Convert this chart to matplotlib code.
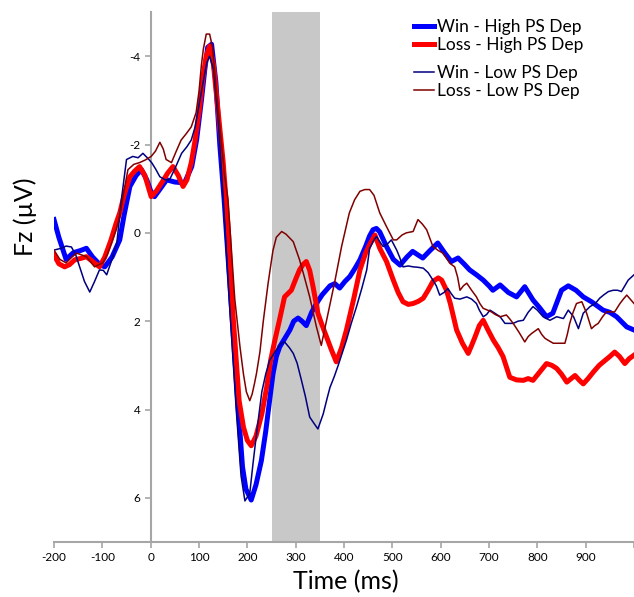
import matplotlib
matplotlib.use("Agg")
import matplotlib.pyplot as plt

plt.rcParams['font.family'] = ['Lato', 'DejaVu Sans']
plt.rcParams['axes.unicode_minus'] = False

# values (time in ms, amplitude in uV)
t_win_high = [-200, -190, -175, -160, -145, -133, -120, -105, -95, -80, -64, -55, -43, -30, -19, -8, 0, 8, 20, 33,
              50, 70, 85, 95, 105, 112, 118, 126, 135, 143, 152, 166, 180, 190, 197, 208, 218, 229, 238, 246,
              253, 260, 267, 277, 288, 296, 305, 313, 322, 333, 343, 355, 371, 381, 391, 402, 412, 423, 433, 445,
              453, 460, 467, 474, 488, 502, 516, 530, 542, 553, 563, 578, 594, 608, 622, 636, 648, 660, 674, 688,
              700, 708, 723, 740, 757, 774, 791, 805, 819, 832, 850, 864, 880, 895, 912, 936, 950, 964, 985, 1000]
v_win_high = [-0.3, 0.1, 0.6, 0.45, 0.4, 0.35, 0.55, 0.72, 0.77, 0.55, 0.16, -0.4, -1.05, -1.3, -1.43, -1.2, -0.95, -0.82, -1.0, -1.2,
              -1.15, -1.13, -1.5, -2.1, -3.0, -3.7, -4.2, -4.27, -3.4, -2.0, -0.75, 1.5, 3.8, 5.3, 5.8, 6.05, 5.7, 5.16, 4.5, 3.8,
              3.2, 2.8, 2.58, 2.4, 2.2, 2.0, 1.93, 2.0, 2.1, 1.8, 1.6, 1.4, 1.2, 1.15, 1.25, 1.1, 0.99, 0.8, 0.61, 0.3,
              0.07, -0.07, -0.1, -0.02, 0.31, 0.6, 0.73, 0.55, 0.42, 0.5, 0.57, 0.4, 0.23, 0.45, 0.65, 0.57, 0.7, 0.84, 0.95, 1.07,
              1.2, 1.3, 1.18, 1.35, 1.45, 1.22, 1.52, 1.7, 1.9, 1.82, 1.3, 1.2, 1.3, 1.45, 1.56, 1.75, 1.8, 1.9, 2.13, 2.2]

t_loss_high = [-200, -190, -178, -168, -157, -145, -133, -120, -106, -95, -82, -72, -64, -55, -43, -33, -23, -12, 1, 12,
               25, 35, 46, 57, 67, 75, 84, 92, 101, 108, 115, 122, 130, 140, 150, 161, 170, 183, 192, 200,
               208, 218, 230, 240, 248, 257, 266, 277, 291, 300, 308, 315, 322, 329, 336, 346, 355, 364, 374, 384,
               395, 405, 420, 433, 445, 453, 464, 474, 488, 502, 512, 522, 533, 543, 554, 564, 574, 584, 595, 602,
               612, 620, 633, 645, 657, 664, 671, 680, 688, 698, 709, 719, 729, 743, 757, 771, 781, 791, 805, 819,
               830, 840, 850, 861, 870, 878, 888, 895, 905, 916, 928, 940, 950, 960, 970, 981, 990, 1000]
v_loss_high = [0.5, 0.7, 0.77, 0.72, 0.61, 0.58, 0.54, 0.65, 0.77, 0.55, 0.16, -0.2, -0.45, -0.85, -1.27, -1.4, -1.5, -1.3, -0.82, -0.95,
               -1.17, -1.35, -1.5, -1.3, -1.05, -1.2, -1.59, -2.1, -2.8, -3.5, -4.0, -4.23, -3.8, -2.7, -1.6, 0.0, 1.8, 3.8, 4.4, 4.7,
               4.82, 4.6, 4.1, 3.5, 2.9, 2.43, 2.0, 1.45, 1.3, 1.05, 0.84, 0.72, 0.65, 0.85, 1.22, 1.82, 2.1, 2.36, 2.65, 2.92,
               2.6, 2.2, 1.5, 0.84, 0.45, 0.27, 0.05, 0.35, 0.65, 1.07, 1.35, 1.56, 1.62, 1.6, 1.55, 1.48, 1.3, 1.1, 1.02, 1.07,
               1.3, 1.6, 2.2, 2.5, 2.73, 2.55, 2.36, 2.1, 1.98, 2.2, 2.43, 2.6, 2.8, 3.27, 3.33, 3.34, 3.3, 3.34, 3.15, 2.96,
               3.0, 3.07, 3.2, 3.38, 3.3, 3.23, 3.35, 3.42, 3.3, 3.15, 3.0, 2.89, 2.8, 2.7, 2.8, 2.96, 2.85, 2.77]

t_win_low = [-200, -185, -175, -164, -155, -147, -137, -126, -116, -106, -98, -91, -80, -70, -60, -50, -37, -26, -16, -7,
             2, 10, 19, 30, 39, 50, 64, 75, 84, 92, 101, 110, 116, 122, 130, 140, 150, 163, 177, 187,
             195, 205, 212, 219, 230, 238, 246, 260, 270, 277, 287, 295, 303, 312, 320, 329, 337, 346, 357, 365,
             371, 380, 388, 397, 405, 415, 426, 437, 447, 453, 460, 467, 474, 481, 490, 498, 509, 515, 522, 533,
             543, 553, 564, 574, 584, 591, 598, 607, 615, 622, 629, 640, 654, 664, 674, 680, 688, 695, 702, 712,
             723, 733, 742, 750, 760, 771, 781, 791, 800, 812, 826, 840, 854, 864, 875, 885, 895, 909, 920, 929,
             938, 947, 957, 966, 974, 981, 988, 995, 1000]
v_win_low = [0.39, 0.35, 0.3, 0.32, 0.5, 0.77, 1.1, 1.34, 1.1, 0.84, 0.85, 0.95, 0.6, 0.23, -0.8, -1.66, -1.73, -1.7, -1.8, -1.7,
             -1.59, -1.45, -1.27, -1.2, -1.2, -1.45, -1.8, -1.95, -2.1, -2.4, -2.95, -3.5, -3.85, -4.0, -3.7, -2.5, -0.8, 1.6, 4.0, 5.5,
             6.07, 5.9, 5.2, 4.55, 3.6, 3.2, 2.89, 2.65, 2.5, 2.47, 2.6, 2.73, 2.95, 3.34, 3.7, 4.17, 4.3, 4.44, 4.1, 3.75,
             3.5, 3.25, 3.0, 2.7, 2.43, 2.05, 1.67, 1.25, 0.84, 0.35, 0.2, 0.08, 0.2, 0.31, 0.25, 0.16, 0.39, 0.55, 0.77, 0.75,
             0.77, 0.78, 0.8, 0.9, 1.07, 1.2, 1.41, 1.35, 1.26, 1.38, 1.48, 1.5, 1.45, 1.5, 1.6, 1.75, 1.9, 1.85, 1.75, 1.82,
             1.9, 2.05, 2.05, 2.05, 2.0, 1.98, 1.8, 1.67, 1.75, 1.9, 1.98, 1.9, 1.94, 1.75, 1.9, 2.17, 1.82, 1.67, 1.6, 1.48,
             1.4, 1.33, 1.3, 1.3, 1.33, 1.2, 1.07, 1.0, 0.95]

t_loss_low = [-200, -188, -175, -163, -153, -143, -133, -125, -116, -107, -99, -90, -81, -72, -64, -56, -47, -35, -23, -11,
              1, 10, 19, 26, 32, 43, 53, 63, 74, 84, 94, 100, 105, 109, 115, 122, 128, 135, 145, 153,
              160, 174, 185, 192, 198, 205, 210, 215, 219, 226, 233, 243, 253, 260, 271, 280, 295, 308, 318, 329,
              343, 353, 367, 381, 395, 411, 422, 433, 443, 453, 462, 474, 488, 502, 509, 520, 529, 543, 553, 562,
              571, 584, 595, 605, 619, 629, 635, 640, 647, 654, 664, 674, 681, 688, 697, 705, 713, 723, 736, 743,
              750, 762, 774, 781, 788, 802, 809, 816, 825, 833, 845, 857, 862, 867, 874, 881, 892, 902, 912, 919,
              926, 935, 943, 952, 960, 971, 978, 985, 992, 1000]
v_loss_low = [0.39, 0.6, 0.68, 0.55, 0.46, 0.5, 0.54, 0.65, 0.77, 0.72, 0.68, 0.5, 0.23, -0.05, -0.37, -0.9, -1.43, -1.55, -1.59, -1.65,
              -1.73, -1.85, -2.05, -1.9, -1.66, -1.59, -1.85, -2.1, -2.25, -2.4, -2.72, -3.2, -3.8, -4.16, -4.5, -4.5, -4.2, -3.3, -2.2, -1.3,
              -0.75, 1.5, 2.6, 3.2, 3.6, 3.8, 3.65, 3.4, 3.18, 2.7, 2.0, 1.14, 0.4, 0.1, -0.03, 0.03, 0.2, 0.61, 1.0, 1.45,
              2.13, 2.55, 1.83, 1.1, 0.31, -0.45, -0.75, -0.94, -0.98, -0.98, -0.85, -0.45, -0.14, 0.16, 0.16, 0.05, 0.0, -0.03, -0.3, -0.2,
              -0.07, 0.31, 0.4, 0.46, 0.69, 0.77, 1.0, 1.3, 1.2, 1.14, 1.3, 1.45, 1.6, 1.71, 1.75, 1.79, 1.85, 1.9, 1.86, 1.95,
              2.05, 2.25, 2.47, 2.35, 2.28, 2.17, 2.3, 2.39, 2.45, 2.5, 2.5, 2.5, 2.3, 2.05, 1.8, 1.6, 1.56, 1.82, 2.17, 2.1,
              2.05, 1.9, 1.79, 1.79, 1.79, 1.6, 1.5, 1.41, 1.5, 1.6]

x_ticks = [-200, -100, 0, 100, 200, 300, 400, 500, 600, 700, 800, 900, 1000]
x_tick_labels = ['-200', '-100', '0', '100', '200', '300', '400', '500', '600', '700', '800', '900', '']
y_ticks = [-4, -2, 0, 2, 4, 6]
window = (250, 350)

fig = plt.figure(figsize=(6.34, 5.97), dpi=100)
ax = fig.add_axes([54 / 634, 55 / 597, 580 / 634, 530 / 597])

ax.axvspan(window[0], window[1], color='#c8c8c8', lw=0, zorder=0)

h1, = ax.plot(t_win_high, v_win_high, color='#0000ff', lw=3.6, solid_joinstyle='round', label='Win - High PS Dep', zorder=2)
h2, = ax.plot(t_loss_high, v_loss_high, color='#ff0000', lw=3.6, solid_joinstyle='round', label='Loss - High PS Dep', zorder=2)
h3, = ax.plot(t_win_low, v_win_low, color='#000080', lw=1.1, label='Win - Low PS Dep', zorder=3)
h4, = ax.plot(t_loss_low, v_loss_low, color='#800000', lw=1.1, label='Loss - Low PS Dep', zorder=3)

ax.set_xlim(-200, 1000)
ax.set_ylim(7, -5)

ax.spines['left'].set_position(('data', 0))
for s in ['top', 'right']:
    ax.spines[s].set_visible(False)
for s in ['left', 'bottom']:
    ax.spines[s].set_color('#a6a6a6')
    ax.spines[s].set_linewidth(1.5)
    ax.spines[s].set_zorder(1)

ax.set_xticks(x_ticks)
ax.set_xticklabels(x_tick_labels)
ax.set_yticks(y_ticks)
ax.tick_params(axis='both', colors='#a6a6a6', labelcolor='black', labelsize=8.5, length=4, width=1.2, direction='out')

fig.text(346 / 634, 1 - 582 / 597, 'Time (ms)', ha='center', va='center', fontsize=18)
fig.text(25 / 634, 1 - 217 / 597, 'Fz (µV)', ha='center', va='center', fontsize=18, rotation=90)

leg_style = dict(loc='upper left', bbox_transform=fig.transFigure, frameon=False, fontsize=12.5,
                 handlelength=1.15, handletextpad=0.15, labelspacing=0.12, borderpad=0, borderaxespad=0)
leg1 = ax.legend(handles=[h1, h2], bbox_to_anchor=(414 / 634, 1 - 19 / 597), **leg_style)
ax.add_artist(leg1)
ax.legend(handles=[h3, h4], bbox_to_anchor=(414 / 634, 1 - 65 / 597), **leg_style)

fig.savefig('out.png', dpi=100)
